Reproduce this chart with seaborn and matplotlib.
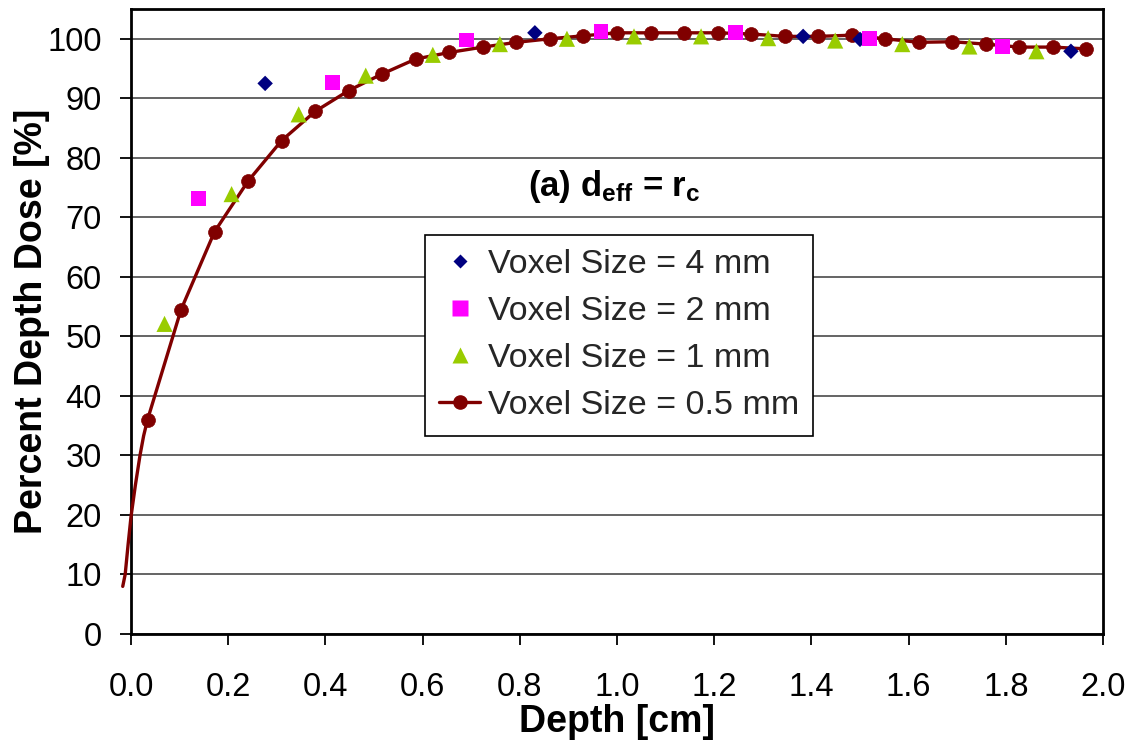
import matplotlib
matplotlib.use("Agg")
import matplotlib.pyplot as plt
import seaborn as sns
from matplotlib.lines import Line2D

# ---------------- data ----------------
x_4mm = [0.276, 0.831, 1.383, 1.500, 1.934]
y_4mm = [92.5, 101.0, 100.4, 99.9, 97.9]

x_2mm = [0.138, 0.414, 0.691, 0.967, 1.243, 1.519, 1.794]
y_2mm = [73.1, 92.7, 99.8, 101.2, 101.0, 100.0, 98.7]

x_1mm = [0.069, 0.207, 0.345, 0.483, 0.621, 0.759, 0.897, 1.035, 1.173,
         1.311, 1.449, 1.587, 1.725, 1.863]
y_1mm = [52.1, 73.9, 87.3, 93.8, 97.3, 99.1, 100.0, 100.4, 100.4,
         100.1, 99.7, 99.1, 98.7, 97.9]

x_05mm = [0.034, 0.103, 0.172, 0.241, 0.310, 0.379, 0.448, 0.517, 0.586,
          0.655, 0.724, 0.793, 0.862, 0.931, 1.000, 1.069, 1.138, 1.207,
          1.276, 1.345, 1.414, 1.483, 1.552, 1.621, 1.690, 1.759, 1.828,
          1.897, 1.966]
y_05mm = [36.0, 54.5, 67.6, 76.1, 82.9, 87.8, 91.3, 94.1, 96.6,
          97.7, 98.6, 99.4, 100.0, 100.5, 101.0, 101.0, 101.0, 101.0,
          100.8, 100.4, 100.4, 100.6, 100.0, 99.4, 99.5, 99.1, 98.6,
          98.6, 98.3]

# start of the smoothed 0.5 mm curve (drawn as line only)
x_05mm_lead = [-0.017, -0.012, -0.006, 0.0, 0.009, 0.0185, 0.026]
y_05mm_lead = [8.0, 10.0, 15.0, 19.7, 25.0, 30.0, 33.3]

series_labels = ["Voxel Size = 4 mm", "Voxel Size = 2 mm",
                 "Voxel Size = 1 mm", "Voxel Size = 0.5 mm"]

x_ticks = [0.0, 0.2, 0.4, 0.6, 0.8, 1.0, 1.2, 1.4, 1.6, 1.8, 2.0]
x_tick_labels = ["0.0", "0.2", "0.4", "0.6", "0.8", "1.0", "1.2", "1.4",
                 "1.6", "1.8", "2.0"]
y_ticks = [0, 10, 20, 30, 40, 50, 60, 70, 80, 90, 100]
y_tick_labels = ["0", "10", "20", "30", "40", "50", "60", "70", "80", "90", "100"]

x_label = "Depth [cm]"
y_label = "Percent Depth Dose [%]"
annotation = r"(a) d$_{\mathbf{eff}}$ = r$_{\mathbf{c}}$"

# ---------------- style ----------------
sns.set_theme(style="white")
plt.rcParams["font.family"] = ["Liberation Sans", "DejaVu Sans"]
plt.rcParams["mathtext.fontset"] = "custom"
plt.rcParams["mathtext.rm"] = "Liberation Sans"
plt.rcParams["mathtext.bf"] = "Liberation Sans:bold"
plt.rcParams["mathtext.it"] = "Liberation Sans:italic"

C_4 = "#000080"
C_2 = "#FF00FF"
C_1 = "#99CC00"
C_05 = "#800000"

W, H = 1135, 744
fig = plt.figure(figsize=(W / 100, H / 100), dpi=100)
fig.patch.set_facecolor("white")
ax = fig.add_axes([131 / W, 1 - 634 / H, 972 / W, 625 / H])
ax.set_facecolor("white")

# 0.5 mm curve (line)
sns.lineplot(x=x_05mm_lead + x_05mm, y=y_05mm_lead + y_05mm, sort=False,
             estimator=None, color=C_05, linewidth=2.4, ax=ax, legend=False,
             clip_on=False, zorder=3)
# 0.5 mm markers
sns.scatterplot(x=x_05mm, y=y_05mm, marker="o", s=100, color=C_05,
                edgecolor=C_05, linewidth=0.5, ax=ax, legend=False, zorder=4)
# 4 mm
sns.scatterplot(x=x_4mm, y=y_4mm, marker="D", s=62, color=C_4,
                edgecolor="none", linewidth=0, ax=ax, legend=False, zorder=5)
# 2 mm
sns.scatterplot(x=x_2mm, y=y_2mm, marker="s", s=115, color=C_2,
                edgecolor="none", linewidth=0, ax=ax, legend=False, zorder=6)
# 1 mm
sns.scatterplot(x=x_1mm, y=y_1mm, marker="^", s=135, color=C_1,
                edgecolor="none", linewidth=0, ax=ax, legend=False, zorder=7)

ax.set_xlim(0, 2.0)
ax.set_ylim(0, 105)
ax.set_xticks(x_ticks)
ax.set_xticklabels(x_tick_labels)
ax.set_yticks(y_ticks)
ax.set_yticklabels(y_tick_labels)

ax.yaxis.grid(True, color="#4a4a4a", linewidth=1.2)
ax.xaxis.grid(False)
ax.set_axisbelow(True)

for side in ["left", "right", "top", "bottom"]:
    ax.spines[side].set_visible(True)
    ax.spines[side].set_color("black")
    ax.spines[side].set_linewidth(2.0)

ax.tick_params(axis="x", bottom=True, direction="out", length=8, width=1.3,
               color="black", labelsize=23.5, pad=19, labelcolor="black")
ax.tick_params(axis="y", left=True, direction="out", length=8, width=1.3,
               color="black", labelsize=23.5, pad=13, labelcolor="black")

ax.set_xlabel(x_label, fontsize=27, fontweight="bold", color="black")
ax.set_ylabel(y_label, fontsize=27, fontweight="bold", color="black")
ax.xaxis.set_label_coords(0.5, -0.112)
ax.yaxis.set_label_coords(-0.083, 0.5)

ax.text(0.994, 75.1, annotation, ha="center", va="center", fontsize=25,
        fontweight="bold", color="black", zorder=8)

handles = [
    Line2D([], [], linestyle="none", marker="D", markersize=7.5,
           markerfacecolor=C_4, markeredgecolor="none"),
    Line2D([], [], linestyle="none", marker="s", markersize=11,
           markerfacecolor=C_2, markeredgecolor="none"),
    Line2D([], [], linestyle="none", marker="^", markersize=12,
           markerfacecolor=C_1, markeredgecolor="none"),
    Line2D([], [], color=C_05, linewidth=2.4, marker="o", markersize=9.5,
           markerfacecolor=C_05, markeredgecolor=C_05),
]
leg = ax.legend(handles, series_labels, loc="upper left",
                bbox_to_anchor=((425 - 131) / 972, (634 - 235) / 625),
                borderaxespad=0, fontsize=24.5, frameon=True, fancybox=False,
                shadow=False, framealpha=1, edgecolor="black",
                handlelength=1.2, handletextpad=0.22, labelspacing=0.47,
                borderpad=0.42)
leg.get_frame().set_linewidth(1.2)
leg.set_zorder(10)

fig.savefig("out.png", dpi=100, facecolor="white")
